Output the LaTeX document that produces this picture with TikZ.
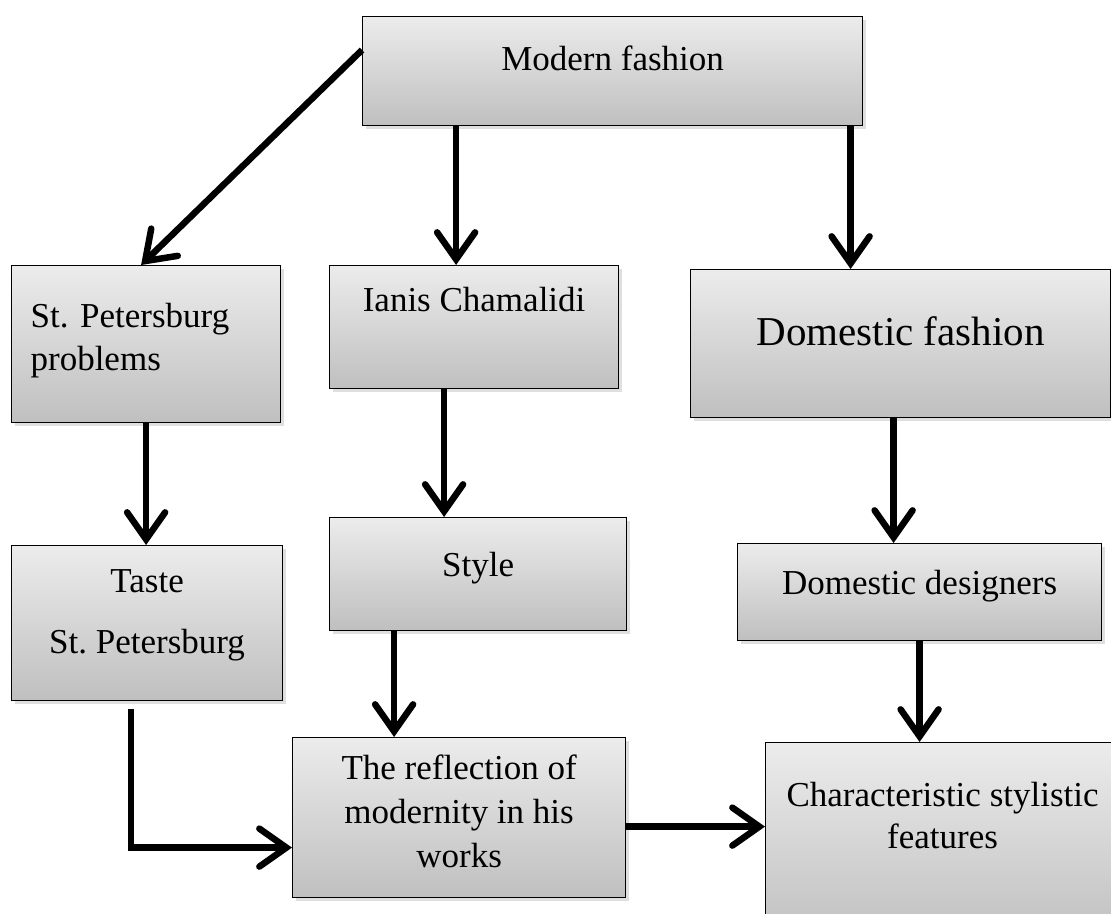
\documentclass[tikz,border=0pt]{standalone}
\usepackage{fontspec}
\setmainfont{Liberation Serif}
\frenchspacing
\usetikzlibrary{arrows.meta,shadows}

\tikzset{
  box/.style={draw=black, line width=1.2pt, top color=gray!15, bottom color=gray!50,
    anchor=north west, inner xsep=0pt, inner ysep=0pt, align=center,
    font=\fontsize{35}{43}\selectfont,
    drop shadow={shadow xshift=3pt, shadow yshift=-3pt, opacity=.25}},
  arr/.style={line width=6.5pt, -{Straight Barb[length=27pt,width=38pt,line cap=round]}},
}

\begin{document}
\begin{tikzpicture}[x=1pt, y=-1pt]
  \useasboundingbox (0,0) rectangle (1111,913);

  % boxes
  \node[box, minimum width=500pt, text height=54pt, text depth=55pt] (mf) at (362,16) {Modern fashion};
  \node[box, text width=231pt, inner xsep=19pt, align=left, text height=62pt, text depth=95pt] (spp) at (11,265) {St. Petersburg\\problems};
  \node[box, minimum width=289pt, text height=46pt, text depth=77pt] (ic) at (329,265) {Ianis Chamalidi};
  \node[box, minimum width=420pt, text height=76pt, text depth=72pt, font=\fontsize{41}{48}\selectfont] (df) at (690,269) {Domestic fashion};
  \node[box, minimum width=271pt, text height=108pt, text depth=47pt, font=\fontsize{35}{61}\selectfont] (tsp) at (11,545) {Taste\\St. Petersburg};
  \node[box, minimum width=297pt, text height=59pt, text depth=54pt] (st) at (329,517) {Style};
  \node[box, minimum width=364pt, text height=51pt, text depth=46pt] (dd) at (737,543) {Domestic designers};
  \node[box, minimum width=333pt, text height=130pt, text depth=30pt, font=\fontsize{35}{44}\selectfont] (rf) at (292,737) {The reflection of\\modernity in his\\works};
  \node[box, minimum width=354pt, text height=106pt, text depth=94pt, font=\fontsize{35}{42}\selectfont] (cs) at (765,742) {Characteristic stylistic\\features};

  % arrows
  \draw[arr] ([yshift=-34pt]mf.north west) -- ([xshift=-5pt]spp.north);
  \draw[arr] ([xshift=-18pt]ic.north |- mf.south) -- ([xshift=-18pt]ic.north);
  \draw[arr] ([xshift=-50pt]df.north |- mf.south) -- ([xshift=-50pt]df.north);
  \draw[arr] (spp.south) -- (spp.south |- tsp.north);
  \draw[arr] ([xshift=-30pt]ic.south) -- ([xshift=-30pt]ic.south |- st.north);
  \draw[arr] ([xshift=-7pt]df.south) -- ([xshift=-7pt]df.south |- dd.north);
  \draw[arr] ([xshift=-65pt]rf.north |- st.south) -- ([xshift=-65pt]rf.north);
  \draw[arr] (dd.south) -- (dd.south |- cs.north);
  \draw[arr] ([xshift=-16pt,yshift=-8pt]tsp.south) |- ([yshift=-30pt]rf.west);
  \draw[arr] ([yshift=-9pt]rf.east) -- ([yshift=-9pt]rf.east -| cs.west);
\end{tikzpicture}
\end{document}
